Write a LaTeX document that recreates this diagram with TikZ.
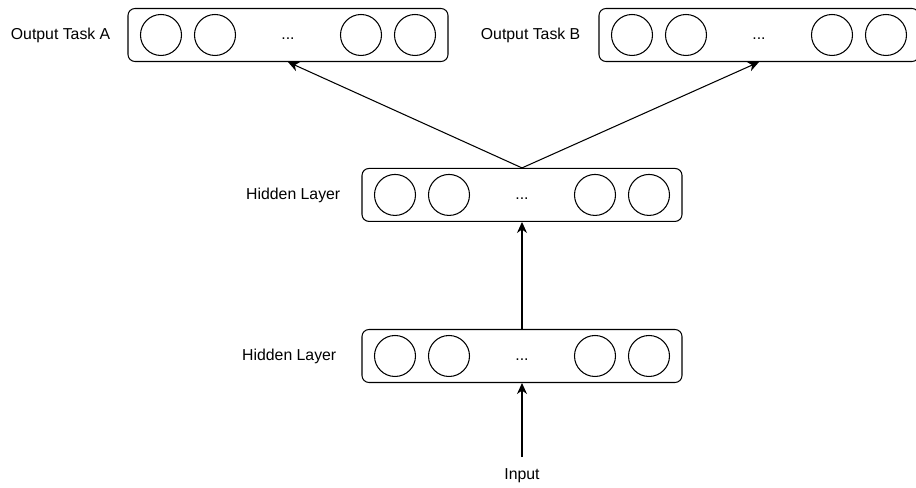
\documentclass[tikz,border=0pt]{standalone}
\usepackage{fontspec}
\setmainfont{Liberation Sans}
\usepackage{tikz}
\usetikzlibrary{arrows.meta, positioning, calc}
\tikzstyle{layer} = [draw=black, rounded corners=0.14cm, minimum width=6.4cm, minimum height=1.06cm, line width=0.6pt]
\tikzstyle{unit} = [circle, draw=black, minimum size=0.82cm, inner sep=0pt, line width=0.6pt]
\tikzstyle{lbl} = [font=\fontsize{9}{11}\selectfont]
\tikzstyle{arrow} = [line width=0.6pt, -{Stealth[length=2.2mm, width=2mm, inset=0.7mm]}]

\begin{document}
\begin{tikzpicture}
    \useasboundingbox (0,0) rectangle (18.32,9.76);

    \node[layer] (h2) at (10.44,2.64) {};
    \node[layer, above=2.14cm of h2] (h1) {};
    \node[layer] (outA) at (5.76,9.06) {};
    \node[layer] (outB) at (15.18,9.06) {};

    \foreach \l in {outA,outB,h1,h2} {
        \foreach \dx [count=\k] in {-2.54,-1.46,1.46,2.54}
            \node[unit] (\l-u\k) at ($(\l)+(\dx,0)$) {};
        \node[lbl] (\l-dots) at ($(\l)+(0,-0.08)$) {...};
    }

    \node[lbl, left=0.22cm of outA] (outA-name) {Output Task A};
    \node[lbl, left=0.24cm of outB] (outB-name) {Output Task B};
    \node[lbl, left=0.3cm of h1] (h1-name) {Hidden Layer};
    \node[lbl, left=0.38cm of h2] (h2-name) {Hidden Layer};
    \node[lbl, inner ysep=6.5pt] (input) at (10.44,0.24) {Input};

    \draw[arrow] (input) -- (h2);
    \draw[arrow] (h2) -- (h1);
    \draw[arrow] (h1.north) -- (outA.south);
    \draw[arrow] (h1.north) -- (outB.south);
\end{tikzpicture}
\end{document}
